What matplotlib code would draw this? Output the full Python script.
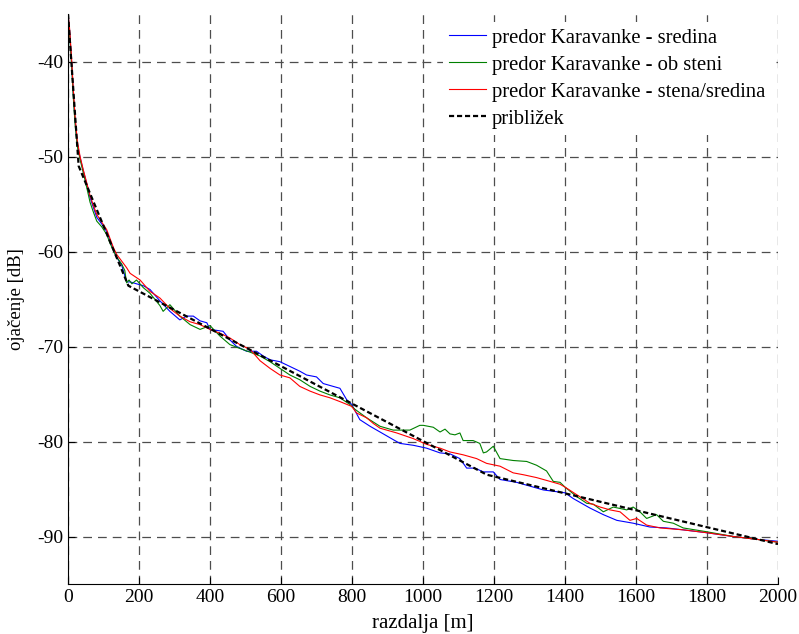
import numpy as np
import matplotlib.pyplot as plt

# predor Karavanke - sredina
x_sred = [0, 4, 10, 15, 20, 26, 34, 43, 53, 62, 71, 81, 95, 109, 118, 128, 137, 151, 165,
          175, 193, 212, 231, 259, 287, 315, 334, 353, 372, 391, 400, 437, 456, 475, 503,
          531, 550, 569, 597, 625, 653, 672, 700, 719, 747, 766, 785, 799, 822, 851, 879,
          916, 935, 973, 1010, 1048, 1076, 1104, 1123, 1146, 1170, 1198, 1217, 1264, 1292,
          1339, 1400, 1423, 1470, 1508, 1546, 1592, 1639, 1686, 1733, 1799, 1874, 1940, 2000]
y_sred = [-35.0, -36.5, -40.0, -43.4, -46.2, -48.7, -50.1, -51.5, -52.9, -54.3, -55.3, -56.4,
          -57.1, -57.9, -58.8, -59.8, -60.6, -61.4, -63.2, -63.2, -63.4, -63.6, -64.0, -65.2,
          -66.3, -67.2, -66.8, -66.8, -67.3, -67.5, -68.2, -68.4, -69.3, -70.0, -70.5, -70.5,
          -71.0, -71.4, -71.6, -72.1, -72.6, -73.0, -73.2, -73.9, -74.2, -74.4, -75.6, -76.1,
          -77.7, -78.4, -79.0, -79.8, -80.2, -80.4, -80.7, -81.2, -81.3, -81.8, -82.8, -82.8,
          -83.2, -83.2, -84.0, -84.3, -84.6, -85.1, -85.4, -86.0, -87.0, -87.7, -88.3, -88.6,
          -89.0, -89.1, -89.3, -89.6, -90.0, -90.3, -90.5]

# predor Karavanke - ob steni
x_stena = [0, 4, 10, 15, 20, 26, 34, 43, 53, 62, 71, 81, 95, 109, 118, 128, 137, 151, 160,
           165, 172, 180, 193, 212, 231, 259, 268, 287, 315, 344, 372, 400, 428, 456, 484,
           513, 541, 569, 597, 625, 653, 682, 710, 738, 766, 794, 808, 841, 879, 916, 935,
           963, 991, 1001, 1029, 1048, 1062, 1076, 1090, 1104, 1113, 1141, 1160, 1170, 1179,
           1198, 1217, 1254, 1292, 1320, 1348, 1367, 1386, 1400, 1433, 1461, 1480, 1508,
           1536, 1574, 1592, 1611, 1630, 1658, 1677, 1705, 1733, 1799, 1874, 1940, 2000]
y_stena = [-35.0, -36.8, -40.3, -43.8, -46.6, -48.9, -50.3, -51.7, -53.3, -54.8, -55.8, -56.8,
           -57.4, -58.2, -59.1, -59.9, -60.6, -61.3, -62.0, -63.3, -63.0, -63.4, -63.0, -63.8,
           -64.4, -65.7, -66.3, -65.6, -66.8, -67.7, -68.2, -67.8, -68.9, -69.8, -70.2, -70.6,
           -71.0, -71.6, -72.3, -73.0, -73.5, -74.2, -74.7, -75.1, -75.4, -76.1, -76.6, -77.5,
           -78.4, -78.8, -78.8, -78.8, -78.3, -78.3, -78.5, -79.0, -78.7, -79.2, -79.3, -79.1,
           -79.9, -79.9, -80.2, -81.2, -81.1, -80.5, -81.8, -82.0, -82.1, -82.5, -83.1, -84.2,
           -84.3, -84.8, -85.8, -86.5, -86.6, -87.4, -86.9, -87.2, -86.9, -87.4, -88.1, -87.7,
           -88.4, -88.6, -89.1, -89.5, -90.0, -90.3, -90.6]

# predor Karavanke - stena/sredina
x_sten_sred = [0, 4, 10, 15, 20, 26, 34, 43, 53, 62, 71, 81, 95, 109, 118, 128, 137, 151, 165,
               175, 203, 231, 259, 287, 315, 344, 372, 400, 428, 456, 484, 513, 541, 569, 597,
               625, 653, 682, 710, 738, 766, 799, 813, 841, 860, 879, 926, 973, 1010, 1048,
               1076, 1113, 1151, 1179, 1217, 1254, 1283, 1320, 1358, 1386, 1400, 1433, 1470,
               1499, 1527, 1555, 1583, 1602, 1630, 1668, 1733, 1799, 1874, 1940, 2000]
y_sten_sred = [-35.0, -36.3, -39.6, -43.0, -45.8, -48.3, -50.0, -51.4, -52.8, -54.1, -55.1,
               -56.1, -56.9, -57.7, -58.6, -59.6, -60.3, -61.0, -61.7, -62.3, -63.0, -64.2,
               -64.9, -66.0, -66.8, -67.4, -67.7, -68.2, -68.6, -69.1, -69.8, -70.3, -71.5,
               -72.3, -73.0, -73.3, -74.2, -74.7, -75.1, -75.4, -75.8, -76.3, -77.0, -77.5,
               -78.1, -78.6, -79.1, -79.7, -80.3, -80.7, -81.1, -81.4, -81.8, -82.3, -82.6,
               -83.3, -83.5, -83.8, -84.2, -84.5, -84.8, -85.6, -86.5, -86.9, -87.2, -87.4,
               -88.3, -88.1, -88.8, -89.1, -89.3, -89.6, -90.0, -90.3, -90.6]

# priblizek (odsekoma linearen)
x_pribl = [0, 30, 170, 1180, 2000]
y_pribl = [-35.0, -51.0, -63.6, -83.5, -90.8]

plt.rcParams['font.family'] = ['Liberation Serif', 'DejaVu Serif']
plt.rcParams['font.size'] = 14
plt.rcParams['axes.unicode_minus'] = False

fig = plt.figure(figsize=(7.99, 6.34), dpi=100)
ax = fig.add_axes([68/799, 50/634, 710/799, 570/634])

ax.plot(x_sred, y_sred, color='#0000ff', lw=0.8, label='predor Karavanke - sredina')
ax.plot(x_stena, y_stena, color='#008000', lw=0.8, label='predor Karavanke - ob steni')
ax.plot(x_sten_sred, y_sten_sred, color='#ff0000', lw=0.8, label='predor Karavanke - stena/sredina')
ax.plot(x_pribl, y_pribl, color='black', lw=1.6, ls=(0, (2.3, 1.3)), label='približek')

ax.set_xlim(0, 2000)
ax.set_ylim(-95, -35)
ax.set_xticks(np.arange(0, 2001, 200))
ax.set_yticks(np.arange(-90, -39, 10))
ax.grid(True, color='0.3', lw=0.9, ls=(0, (7, 4.8)))
ax.tick_params(direction='in', length=5, width=0.8, top=False, right=False, labelsize=14)
ax.spines['top'].set_visible(False)
ax.spines['right'].set_visible(False)
ax.set_xlabel('razdalja [m]', fontsize=15, labelpad=6)
ax.set_ylabel('ojačenje [dB]', fontsize=13.5, labelpad=8.5)

leg = ax.legend(loc='upper left', bbox_to_anchor=(443/799, 1 - 22/634), bbox_transform=fig.transFigure,
                frameon=True, fancybox=False, borderpad=0.3, fontsize=14.9, handlelength=1.8,
                handletextpad=0.25, labelspacing=0.36, borderaxespad=0)
leg.get_frame().set_facecolor('white')
leg.get_frame().set_edgecolor('none')
leg.get_frame().set_alpha(1)

fig.savefig('out.png', dpi=100)
